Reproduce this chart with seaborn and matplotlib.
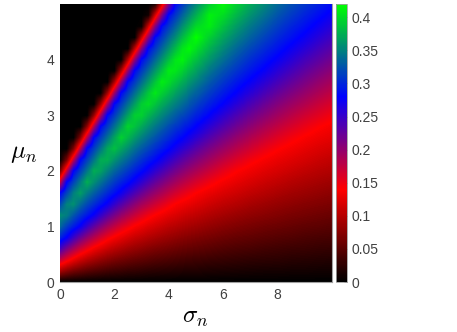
import numpy as np
import matplotlib
matplotlib.use('Agg')
import matplotlib.pyplot as plt
from matplotlib.colors import LinearSegmentedColormap
from matplotlib.patches import Rectangle
import seaborn as sns

sigma_ticks = [0, 2, 4, 6, 8]
mu_ticks = [0, 1, 2, 3, 4]
cbar_ticks = [0, 0.05, 0.1, 0.15, 0.2, 0.25, 0.3, 0.35, 0.4]
cbar_labels = ['0', '0.05', '0.1', '0.15', '0.2', '0.25', '0.3', '0.35', '0.4']
map_colors = ['black', 'red', 'blue', 'lime']

# grid spacing of the readings below
sigma_step = 0.5
mu_step = 0.2

# one list per sigma (0, 0.5 ... 10), mu from 0 to 5, values in thousandths
readings = [
    [0, 93, 175, 245, 299, 337, 356, 318, 280, 168, 62, 0, 0, 0, 0, 0, 0, 0, 0, 0, 0, 0, 0, 0, 0, 0],
    [0, 65, 130, 190, 248, 294, 326, 358, 349, 315, 281, 175, 70, 0, 0, 0, 0, 0, 0, 0, 0, 0, 0, 0, 0, 0],
    [0, 50, 100, 150, 200, 250, 291, 319, 347, 375, 344, 313, 282, 181, 78, 0, 0, 0, 0, 0, 0, 0, 0, 0, 0, 0],
    [0, 41, 81, 122, 164, 208, 252, 289, 316, 342, 368, 374, 343, 313, 282, 187, 86, 0, 0, 0, 0, 0, 0, 0, 0, 0],
    [0, 34, 68, 102, 137, 175, 214, 253, 287, 311, 335, 360, 384, 369, 340, 311, 283, 193, 93, 0, 0, 0, 0, 0, 0, 0],
    [0, 29, 59, 88, 118, 149, 184, 219, 254, 286, 309, 333, 356, 380, 396, 368, 340, 312, 284, 198, 101, 0, 0, 0, 0, 0],
    [0, 26, 52, 78, 104, 130, 159, 190, 223, 255, 284, 306, 328, 350, 372, 394, 392, 365, 338, 311, 284, 203, 109, 5, 0, 0],
    [0, 23, 46, 69, 93, 116, 139, 168, 197, 226, 255, 283, 304, 325, 345, 366, 387, 407, 387, 362, 336, 310, 285, 208, 117, 13],
    [0, 21, 42, 63, 84, 104, 125, 148, 175, 202, 229, 256, 282, 302, 321, 341, 361, 381, 400, 409, 384, 359, 335, 310, 285, 212],
    [0, 19, 38, 57, 76, 95, 114, 133, 156, 181, 206, 231, 256, 281, 300, 319, 338, 356, 375, 394, 413, 405, 381, 357, 333, 309],
    [0, 18, 35, 53, 70, 88, 105, 123, 140, 163, 187, 210, 233, 257, 280, 298, 315, 333, 350, 368, 385, 403, 420, 398, 375, 353],
    [0, 16, 32, 49, 65, 81, 97, 113, 129, 148, 170, 192, 213, 235, 257, 279, 296, 312, 328, 344, 361, 377, 393, 410, 412, 391],
    [0, 15, 30, 45, 60, 75, 90, 105, 120, 136, 154, 175, 196, 216, 237, 257, 278, 294, 309, 324, 340, 355, 370, 386, 401, 416],
    [0, 14, 28, 42, 56, 70, 84, 99, 113, 127, 141, 160, 180, 199, 219, 238, 258, 277, 292, 307, 321, 335, 350, 364, 379, 393],
    [0, 13, 26, 40, 53, 66, 79, 92, 106, 119, 132, 147, 166, 184, 203, 221, 239, 258, 276, 291, 304, 318, 332, 345, 359, 372],
    [0, 12, 25, 37, 50, 62, 75, 87, 100, 112, 124, 137, 153, 171, 188, 206, 223, 241, 258, 276, 290, 303, 316, 329, 342, 355],
    [0, 12, 24, 35, 47, 59, 71, 82, 94, 106, 118, 129, 142, 158, 175, 192, 208, 225, 242, 258, 275, 289, 301, 313, 325, 337],
    [0, 11, 22, 33, 45, 56, 67, 78, 89, 100, 112, 123, 134, 147, 163, 179, 195, 211, 227, 243, 259, 274, 288, 299, 311, 322],
    [0, 11, 21, 32, 42, 53, 64, 74, 85, 95, 106, 117, 127, 138, 152, 167, 183, 198, 213, 228, 243, 259, 274, 287, 298, 309],
    [0, 10, 20, 30, 40, 51, 61, 71, 81, 91, 101, 111, 121, 131, 142, 157, 171, 186, 200, 215, 230, 244, 259, 273, 286, 297],
    [0, 10, 19, 29, 39, 48, 58, 68, 77, 87, 97, 106, 116, 126, 135, 147, 161, 175, 189, 203, 217, 231, 245, 259, 273, 285],
]

# extra readings for the narrow stripes, sigma 0.25, 0.75 ... 4.75
readings_between = [
    [0, 77, 151, 215, 278, 313, 348, 351, 316, 280, 172, 66, 0, 0, 0, 0, 0, 0, 0, 0, 0, 0, 0, 0, 0, 0],
    [0, 57, 113, 168, 222, 276, 307, 337, 366, 346, 313, 281, 178, 74, 0, 0, 0, 0, 0, 0, 0, 0, 0, 0, 0, 0],
    [0, 45, 90, 134, 181, 228, 274, 304, 331, 358, 374, 343, 313, 282, 185, 82, 0, 0, 0, 0, 0, 0, 0, 0, 0, 0],
    [0, 37, 74, 111, 149, 190, 232, 273, 301, 326, 351, 376, 371, 341, 312, 283, 190, 89, 0, 0, 0, 0, 0, 0, 0, 0],
    [0, 32, 63, 95, 127, 161, 198, 235, 272, 298, 322, 346, 370, 394, 368, 340, 312, 283, 196, 97, 0, 0, 0, 0, 0, 0],
    [0, 28, 55, 83, 110, 138, 171, 204, 238, 271, 296, 319, 341, 364, 386, 393, 366, 339, 311, 284, 201, 105, 0, 0, 0, 0],
    [0, 24, 49, 73, 98, 122, 148, 179, 209, 240, 270, 294, 316, 337, 358, 379, 400, 389, 363, 337, 310, 284, 206, 113, 9, 0],
    [0, 22, 44, 66, 88, 110, 132, 158, 186, 214, 242, 270, 293, 313, 333, 353, 373, 393, 410, 385, 360, 335, 310, 285, 210, 119],
    [0, 20, 40, 60, 80, 100, 120, 139, 165, 191, 217, 243, 269, 291, 310, 329, 349, 368, 387, 406, 406, 382, 357, 333, 309, 285],
    [0, 18, 36, 55, 73, 91, 109, 128, 148, 172, 196, 220, 245, 269, 290, 308, 326, 344, 362, 380, 398, 416, 401, 378, 355, 332],
]

z = np.array(readings).T / 1000
z_between = np.array(readings_between).T / 1000
nrows, ncols = z.shape

# left part on the finer sigma spacing
z_left = np.zeros((nrows, 21))
z_left[:, 0::2] = z[:, :11]
z_left[:, 1::2] = z_between

cmap = LinearSegmentedColormap.from_list('brg_map', map_colors, N=256)

sns.set_style('white')
plt.rcParams['font.family'] = ['Liberation Sans', 'DejaVu Sans']
plt.rcParams['mathtext.fontset'] = 'cm'

fig = plt.figure(figsize=(4.57, 3.32), dpi=100)
ax = fig.add_axes([60 / 457, 1 - 282 / 332, 271.5 / 457, 278 / 332])
cax = fig.add_axes([336 / 457, 1 - 282 / 332, 11 / 457, 278 / 332])

sns.heatmap(z, cmap=cmap, vmin=0, vmax=0.42, ax=ax, cbar_ax=cax,
            xticklabels=False, yticklabels=False,
            cbar_kws={'ticks': cbar_ticks})

# smooth the cells, colours picked after interpolating the values
ax.imshow(z, cmap=cmap, vmin=0, vmax=0.42, origin='lower', aspect='auto',
          extent=(0, ncols, 0, nrows), interpolation='bilinear',
          interpolation_stage='data', zorder=2)
left = ax.imshow(z_left, cmap=cmap, vmin=0, vmax=0.42, origin='lower', aspect='auto',
                 extent=(0.25, 10.75, 0, nrows), interpolation='bilinear',
                 interpolation_stage='data', zorder=2.5)
left.set_clip_path(Rectangle((0.5, 0.5), 10, nrows - 1, transform=ax.transData))

ax.set_xlim(0.5, 10 / sigma_step + 0.5)
ax.set_ylim(0.5, 5 / mu_step + 0.5)
ax.set_xticks([s / sigma_step + 0.5 for s in sigma_ticks])
ax.set_xticklabels(sigma_ticks)
ax.set_yticks([m / mu_step + 0.5 for m in mu_ticks])
ax.set_yticklabels(mu_ticks, rotation=0)
ax.tick_params(length=0, labelsize=10, colors='#404040')
ax.tick_params(axis='x', pad=4)
ax.tick_params(axis='y', pad=4)
ax.set_xlabel(r'$\sigma_n$', fontsize=18, color='black', va='center')
ax.set_ylabel(r'$\mu_n$', fontsize=18, color='black', rotation=0, va='center', ha='center')
ax.xaxis.set_label_coords(0.497, -0.126)
ax.yaxis.set_label_coords(-0.133, 0.464)

for side in ['bottom', 'right']:
    ax.spines[side].set_visible(True)
    ax.spines[side].set_color('#a0a0a0')
    ax.spines[side].set_linewidth(0.8)
    ax.spines[side].set_zorder(3)

cbar = ax.collections[0].colorbar
cbar.set_ticklabels(cbar_labels)
cbar.ax.tick_params(length=2, width=0.5, direction='in', labelsize=10,
                    colors='#404040', pad=3)
cbar.outline.set_visible(True)
cbar.outline.set_edgecolor('#a0a0a0')
cbar.outline.set_linewidth(0.6)

fig.savefig('out.png', dpi=100)
